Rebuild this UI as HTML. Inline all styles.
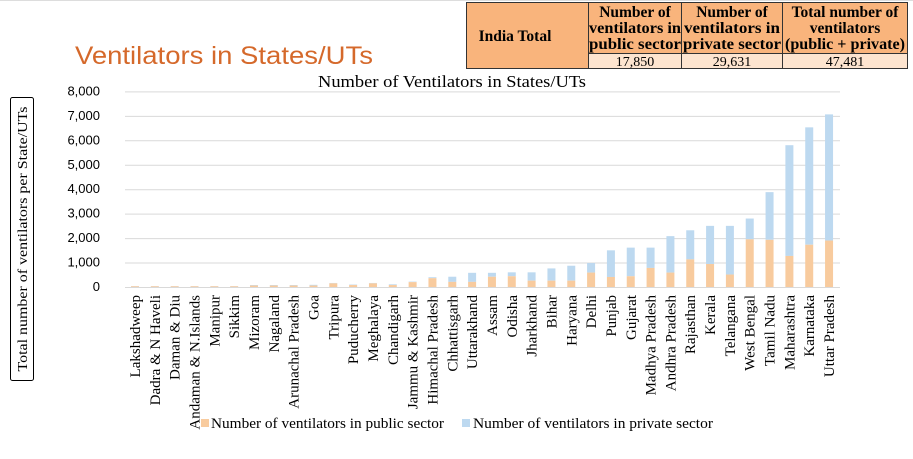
<!DOCTYPE html>
<html><head><meta charset="utf-8"><style>
body{margin:0;width:913px;height:459px;background:#fff;overflow:hidden;position:relative;font-family:"Liberation Serif",serif}
</style></head><body>
<svg width="913" height="459" style="position:absolute;left:0;top:0" xmlns="http://www.w3.org/2000/svg" font-family="Liberation Serif,serif">
<rect x="0" y="0" width="913" height="1" fill="#ddd"/>
<g font-family="Liberation Serif,serif" font-weight="bold" font-size="15.5" text-anchor="middle" fill="#000">
<rect x="466" y="2" width="442" height="51" fill="#f9b47c"/>
<rect x="466" y="53" width="122" height="15" fill="#f9b47c"/>
<rect x="588" y="53" width="320" height="15" fill="#fde4cf"/>
<g stroke="#333" stroke-width="1" fill="none">
<rect x="466.5" y="2.5" width="441" height="66"/>
<line x1="588.5" y1="2" x2="588.5" y2="68"/><line x1="681.5" y1="2" x2="681.5" y2="68"/><line x1="782.5" y1="2" x2="782.5" y2="68"/>
<line x1="588" y1="53.5" x2="908" y2="53.5"/>
</g>
<text x="515" y="41">India Total</text>
<text x="635" y="17">Number of</text><text x="635" y="33" textLength="92" lengthAdjust="spacingAndGlyphs">ventilators in</text><text x="635" y="49" textLength="92" lengthAdjust="spacingAndGlyphs">public sector</text>
<text x="732" y="17">Number of</text><text x="732" y="33" textLength="96" lengthAdjust="spacingAndGlyphs">ventilators in</text><text x="732" y="49" textLength="98" lengthAdjust="spacingAndGlyphs">private sector</text>
<text x="845" y="17">Total number of</text><text x="845" y="33">ventilators</text><text x="845" y="49" textLength="120" lengthAdjust="spacingAndGlyphs">(public + private)</text>
<g font-weight="normal" font-size="14"><text x="635" y="66">17,850</text><text x="732" y="66">29,631</text><text x="845" y="66">47,481</text></g>
</g>
<text x="75" y="64" font-family="Liberation Sans,sans-serif" font-size="25" fill="#d5692b" textLength="298" lengthAdjust="spacingAndGlyphs">Ventilators in States/UTs</text>
<text x="452" y="87" font-size="16.5" text-anchor="middle" textLength="268" lengthAdjust="spacingAndGlyphs">Number of Ventilators in States/UTs</text>
<rect x="10.5" y="97.5" width="23" height="283" rx="2" fill="none" stroke="#000"/>
<text transform="translate(27,239) rotate(-90)" font-size="14" text-anchor="middle" textLength="265" lengthAdjust="spacingAndGlyphs">Total number of ventilators per State/UTs</text>
<g id="grid" stroke="#d9d9d9" stroke-width="1"></g>
<g id="yl" font-size="13" text-anchor="end" font-family="Liberation Sans,sans-serif"></g>
<g id="bars"></g>
<g id="xl" font-size="15" font-family="Liberation Serif,serif"></g>
<g font-family="Liberation Serif,serif" font-size="15">
<rect x="201" y="419" width="8" height="8" fill="#f8cb9e"/>
<text x="211" y="428" textLength="233" lengthAdjust="spacingAndGlyphs">Number of ventilators in public sector</text>
<rect x="462" y="419" width="8" height="8" fill="#bdd9f0"/>
<text x="473" y="428" textLength="240" lengthAdjust="spacingAndGlyphs">Number of ventilators in private sector</text>
</g>
</svg>
<script>
var ns="http://www.w3.org/2000/svg";
function el(p,t,a,txt){var e=document.createElementNS(ns,t);for(var k in a)e.setAttribute(k,a[k]);if(txt)e.textContent=txt;document.getElementById(p).appendChild(e);}
var y0=287,s=24.45/1000;
for(var i=0;i<=8;i++){var y=y0-i*1000*s;el("grid","line",{x1:125,x2:840,y1:y+.5,y2:y+.5});el("yl","text",{x:100,y:y+4},(i*1000).toLocaleString("en-US"));}
var d=[["Lakshadweep",30,40],["Dadra & N Haveli",30,40],["Daman & Diu",30,40],["Andaman & N.Islands",30,40],["Manipur",30,40],["Sikkim",30,40],["Mizoram",60,80],["Nagaland",60,80],["Arunachal Pradesh",60,80],["Goa",60,90],["Tripura",150,165],["Puducherry",80,100],["Meghalaya",150,165],["Chandigarh",80,110],["Jammu & Kashmir",200,220],["Himachal Pradesh",360,400],["Chhattisgarh",210,420],["Uttarakhand",210,580],["Assam",420,580],["Odisha",440,600],["Jharkhand",260,600],["Bihar",260,760],["Haryana",260,870],["Delhi",590,980],["Punjab",410,1500],["Gujarat",440,1610],["Madhya Pradesh",780,1610],["Andhra Pradesh",590,2080],["Rajasthan",1130,2320],["Kerala",940,2500],["Telangana",510,2500],["West Bengal",1950,2800],["Tamil Nadu",1930,3880],["Maharashtra",1270,5800],["Karnataka",1730,6530],["Uttar Pradesh",1900,7060]];
d.forEach(function(r,i){var cx=135+19.83*i,w=8;
var hp=r[1]*s,ht=r[2]*s;
el("bars","rect",{x:cx-w/2,y:y0-ht,width:w,height:ht-hp,fill:"#bdd9f0"});
el("bars","rect",{x:cx-w/2,y:y0-hp,width:w,height:hp,fill:"#f8cb9e"});
el("xl","text",{transform:"translate("+(cx+5)+",295) rotate(-90)","text-anchor":"end"},r[0]);});
</script>
</body></html>
